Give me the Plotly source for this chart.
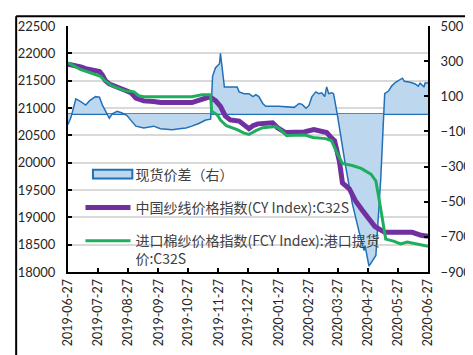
import plotly.graph_objects as go

# ---------------- data ----------------
spread_dates = [
    '2019-06-27', '2019-06-30', '2019-07-05', '2019-07-10', '2019-07-15', '2019-07-19',
    '2019-07-25', '2019-07-29', '2019-08-01', '2019-08-04', '2019-08-08', '2019-08-11',
    '2019-08-16', '2019-08-21', '2019-08-26', '2019-08-30', '2019-09-04', '2019-09-12',
    '2019-09-22', '2019-09-29', '2019-10-11', '2019-10-18', '2019-10-25', '2019-10-31',
    '2019-11-07', '2019-11-14', '2019-11-19', '2019-11-21', '2019-11-24', '2019-11-28',
    '2019-11-29', '2019-12-03', '2019-12-16', '2019-12-18', '2019-12-23', '2019-12-28',
    '2020-01-01', '2020-01-04', '2020-01-07', '2020-01-11', '2020-01-14', '2020-01-27',
    '2020-02-12', '2020-02-17', '2020-02-20', '2020-02-24', '2020-02-27', '2020-03-01',
    '2020-03-05', '2020-03-08', '2020-03-11', '2020-03-14', '2020-03-16', '2020-03-18',
    '2020-03-21', '2020-03-23', '2020-03-25', '2020-03-27', '2020-04-04', '2020-04-11',
    '2020-04-18', '2020-04-23', '2020-04-24', '2020-04-28', '2020-05-05', '2020-05-10',
    '2020-05-13', '2020-05-14', '2020-05-18', '2020-05-21', '2020-05-25', '2020-06-01',
    '2020-06-03', '2020-06-09', '2020-06-14', '2020-06-17', '2020-06-19', '2020-06-23',
    '2020-06-24', '2020-06-27',
]
spread = [
    -60, -20, 85, 70, 50, 75,
    98, 95, 50, 15, -25, 0,
    15, 5, -10, -37, -70, -80,
    -70, -85, -90, -85, -80, -70,
    -55, -35, -30, 215, 263, 285,
    345, 153, 153, 125, 115, 115,
    98, 109, 98, 59, 43, 43,
    37, 59, 54, 32, 48, 98,
    125, 115, 120, 98, 153, 115,
    120, 115, 40, -10, -290, -509,
    -673, -778, -750, -867, -806, -365,
    0, 115, 131, 158, 180, 203,
    185, 180, 170, 158, 175, 153,
    175, 175,
]

cy_dates = [
    '2019-06-27', '2019-07-05', '2019-07-10', '2019-07-15', '2019-07-19', '2019-07-29',
    '2019-08-01', '2019-08-04', '2019-08-08', '2019-08-16', '2019-08-26', '2019-08-30',
    '2019-09-04', '2019-09-12', '2019-09-22', '2019-09-29', '2019-10-31', '2019-11-07',
    '2019-11-14', '2019-11-18', '2019-11-24', '2019-11-29', '2019-12-04', '2019-12-09',
    '2019-12-18', '2019-12-24', '2019-12-28', '2020-01-01', '2020-01-06', '2020-01-21',
    '2020-01-26', '2020-02-03', '2020-02-22', '2020-03-03', '2020-03-09', '2020-03-16',
    '2020-03-20', '2020-03-24', '2020-03-29', '2020-04-01', '2020-04-08', '2020-04-14',
    '2020-04-21', '2020-04-28', '2020-05-04', '2020-05-14', '2020-05-24', '2020-06-11',
    '2020-06-20', '2020-06-27',
]
cy = [
    21800, 21780, 21750, 21720, 21700, 21667,
    21600, 21500, 21440, 21380, 21310, 21280,
    21180, 21130, 21118, 21100, 21100, 21140,
    21190, 21205, 21136, 21029, 20852, 20781,
    20760, 20675, 20622, 20675, 20710, 20728,
    20640, 20551, 20560, 20604, 20587, 20551,
    20470, 20400, 20019, 19629, 19523, 19310,
    19133, 18956, 18832, 18726, 18726, 18726,
    18672, 18655,
]

fcy_dates = [
    '2019-06-27', '2019-07-10', '2019-07-19', '2019-07-30', '2019-08-04', '2019-08-11',
    '2019-08-24', '2019-09-02', '2019-09-07', '2019-09-12', '2019-10-31', '2019-11-10',
    '2019-11-19', '2019-11-20', '2019-11-23', '2019-11-26', '2019-11-29', '2019-12-05',
    '2019-12-16', '2019-12-23', '2019-12-28', '2020-01-04', '2020-01-11', '2020-01-24',
    '2020-01-28', '2020-02-04', '2020-02-23', '2020-03-02', '2020-03-15', '2020-03-21',
    '2020-03-26', '2020-04-01', '2020-04-11', '2020-04-20', '2020-04-30', '2020-05-05',
    '2020-05-08', '2020-05-12', '2020-05-15', '2020-05-23', '2020-05-30', '2020-06-06',
    '2020-06-14', '2020-06-27',
]
fcy = [
    21826, 21703, 21650, 21579, 21490, 21402,
    21313, 21295, 21224, 21207, 21207, 21242,
    21242, 20941, 20905, 20870, 20781, 20675,
    20604, 20540, 20516, 20587, 20640, 20660,
    20620, 20498, 20505, 20462, 20440, 20400,
    20197, 19984, 19948, 19895, 19789, 19665,
    19364, 18903, 18602, 18566, 18513, 18548,
    18513, 18470,
]

tick_dates = [
    '2019-06-27', '2019-07-27', '2019-08-27', '2019-09-27', '2019-10-27', '2019-11-27',
    '2019-12-27', '2020-01-27', '2020-02-27', '2020-03-27', '2020-04-27', '2020-05-27',
    '2020-06-27',
]
left_ticks = [18000, 18500, 19000, 19500, 20000, 20500, 21000, 21500, 22000, 22500]
right_ticks = [-900, -700, -500, -300, -100, 100, 300, 500]

names = ['现货价差（右）', '中国纱线价格指数(CY Index):C32S', '进口棉纱价格指数(FCY Index):港口提货<br>价:C32S']

# ---------------- figure ----------------
W, H = 473, 355
ML, MR, MT, MB = 54, 44, 10, 91
PW, PH = W - ML - MR, H - MT - MB

AREA_FILL = '#BDD7EE'
AREA_LINE = '#2170B8'


def px_x(px):
    return (px - ML) / PW


def px_y(py):
    return (H - MB - py) / PH


fig = go.Figure()
fig.add_trace(go.Scatter(
    x=spread_dates, y=spread, name=names[0], mode='lines', fill='tozeroy',
    fillcolor=AREA_FILL, line=dict(color=AREA_LINE, width=1.5), yaxis='y',
    showlegend=False, legendgroup='a'))
fig.add_trace(go.Scatter(
    x=cy_dates, y=cy, name=names[1], mode='lines',
    line=dict(color='#7030A0', width=5), yaxis='y2', legendgroup='b', legendrank=2))
fig.add_trace(go.Scatter(
    x=fcy_dates, y=fcy, name=names[2], mode='lines',
    line=dict(color='#1FAE5E', width=3), yaxis='y2', legendgroup='c', legendrank=3))

# legend text entry for the area series (its own swatch is transparent; the shape lies outside the x range)
fig.add_shape(type='rect', xref='x', yref='y', x0='2021-01-01', x1='2021-01-02', y0=0, y1=100,
              fillcolor='rgba(0,0,0,0)', line=dict(color='rgba(0,0,0,0)', width=0),
              showlegend=True, name=names[0], legendgroup='a', legendrank=1)
# box-style legend swatch for the area series
fig.add_shape(type='rect', xref='paper', yref='paper',
              x0=px_x(80), x1=px_x(121), y0=px_y(167.5), y1=px_y(158.5),
              fillcolor=AREA_FILL, line=dict(color=AREA_LINE, width=2), layer='above')

tickfont = dict(family='Lato', size=13, color='#262626')
fig.update_layout(
    width=W, height=H,
    margin=dict(l=ML, r=MR, t=MT, b=MB),
    paper_bgcolor='white', plot_bgcolor='white',
    showlegend=True,
    legend=dict(
        x=px_x(67), y=px_y(147), xanchor='left', yanchor='top',
        bgcolor='rgba(0,0,0,0)', font=dict(family='Noto Sans CJK SC', size=14, color='#404040'),
        traceorder='grouped', tracegroupgap=12, itemwidth=45, valign='top',
    ),
    xaxis=dict(
        type='date', range=[tick_dates[0], tick_dates[-1]],
        tickvals=tick_dates, ticktext=tick_dates, tickangle=-90,
        tickfont=dict(family='Lato', size=12.5, color='#262626'),
        showgrid=False, zeroline=False,
        showline=True, linecolor='black', linewidth=2,
        ticks='inside', ticklen=4, tickcolor='black', tickwidth=1.5,
    ),
    yaxis=dict(
        side='right', range=[-900, 500], tickvals=right_ticks, tickformat='d',
        tickfont=tickfont, showgrid=False,
        zeroline=True, zerolinecolor=AREA_LINE, zerolinewidth=2,
        showline=True, linecolor='black', linewidth=2,
        ticks='inside', ticklen=4, tickcolor='black', tickwidth=1.5,
        ticklabelstandoff=8,
    ),
    yaxis2=dict(
        overlaying='y', side='left', range=[18000, 22500], tickvals=left_ticks, tickformat='d',
        tickfont=tickfont, showgrid=True, gridcolor='#D9D9D9', gridwidth=1.5,
        zeroline=False,
        showline=True, linecolor='black', linewidth=2,
        ticks='inside', ticklen=4, tickcolor='black', tickwidth=1.5,
        ticklabelstandoff=8,
    ),
)
fig.add_shape(type='line', xref='paper', yref='paper',
              x0=px_x(0), x1=px_x(W), y0=px_y(0), y1=px_y(0),
              line=dict(color='black', width=2))
fig.add_shape(type='line', xref='paper', yref='paper',
              x0=px_x(0), x1=px_x(0), y0=px_y(0), y1=px_y(H),
              line=dict(color='black', width=2))

fig.write_html('out.html')
